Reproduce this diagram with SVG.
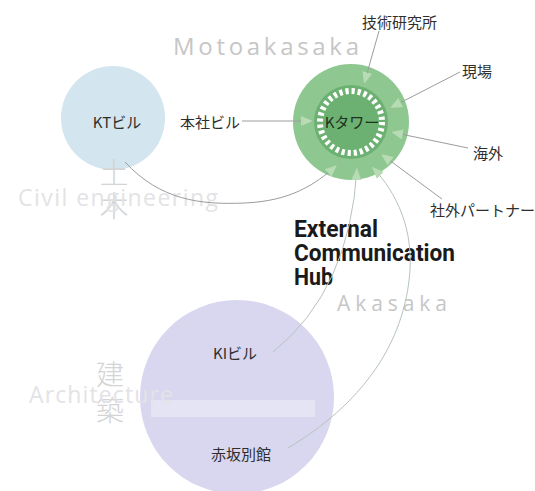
<svg xmlns="http://www.w3.org/2000/svg" width="535" height="491" viewBox="0 0 535 491">
<defs>
<style>
.jp{font-family:"Noto Sans CJK JP","Noto Sans",sans-serif;fill:#2e2e2e;font-size:15px}
.wm{font-family:"Open Sans","Noto Sans",sans-serif;fill:#c6c6c6}
.wm2{font-family:"Open Sans","Noto Sans",sans-serif;fill:#e3e3e6}
.wkt{font-family:"Noto Sans CJK JP",sans-serif;font-weight:200;fill:#d4d4d4}
.ln{fill:none;stroke:#9c9c9c;stroke-width:1}
.ln2{fill:none;stroke:#b6c4bb;stroke-width:1}
.hub{font-family:Roboto,"Liberation Sans",sans-serif;font-weight:700;font-size:23px;fill:#1a1a1a}
</style>
<marker id="ah" markerUnits="userSpaceOnUse" markerWidth="14" markerHeight="12" refX="12" refY="5" orient="auto">
<path d="M0,0 L12,5 L0,10 Z" fill="#b7dbb3"/>
</marker>
</defs>
<rect width="535" height="491" fill="#ffffff"/>

<g id="node-kt">
<circle cx="113" cy="118" r="52" fill="#d3e5ee"/>
<text class="wkt" x="114" y="184" font-size="29" text-anchor="middle">土</text>
<text class="wkt" x="114" y="217" font-size="29" text-anchor="middle">木</text>
<text class="jp" x="117" y="128" text-anchor="middle">KTビル</text>
</g>

<g id="node-ki">
<circle cx="237" cy="397" r="97" fill="#d9d7ef"/>
<rect x="151" y="400" width="164" height="17" fill="#e5e4f4"/>
<text class="wkt" x="110" y="385" font-size="28" text-anchor="middle">建</text>
<text class="wkt" x="110" y="421" font-size="28" text-anchor="middle">築</text>
<text class="jp" x="235" y="359" text-anchor="middle">KIビル</text>
<text class="jp" x="241" y="460" text-anchor="middle">赤坂別館</text>
</g>

<!-- background watermark texts -->
<g id="watermarks">
<text class="wm" x="173" y="55" font-size="24" textLength="186" lengthAdjust="spacing">Motoakasaka</text>
<text class="wm" x="337" y="311" font-size="21" textLength="110" lengthAdjust="spacing">Akasaka</text>
<text class="wm2" x="18" y="206" font-size="23" textLength="200" lengthAdjust="spacing">Civil engineering</text>
<text class="wm2" x="29" y="403" font-size="23" textLength="144" lengthAdjust="spacing">Architecture</text>
</g>

<g id="node-ktower">
<circle cx="351" cy="122" r="58" fill="#8fc791"/>
<circle cx="351" cy="122" r="37" fill="#6cb171"/>
<circle cx="351" cy="122" r="31" fill="none" stroke="#ffffff" stroke-width="6" stroke-dasharray="3.2 2.9"/>
<text class="jp" x="352" y="128" text-anchor="middle" font-size="14" style="fill:#1d3320">Kタワー</text>
</g>

<g id="labels">
<text class="jp" x="362" y="28" font-size="14.5">技術研究所</text>
<text class="jp" x="462" y="77">現場</text>
<text class="jp" x="473" y="159">海外</text>
<text class="jp" x="430" y="216" textLength="105" lengthAdjust="spacingAndGlyphs">社外パートナー</text>
<text class="jp" x="180" y="128">本社ビル</text>
</g>

<g id="hub">
<text class="hub" x="294" y="237" textLength="84" lengthAdjust="spacingAndGlyphs">External</text>
<text class="hub" x="294" y="261" textLength="161" lengthAdjust="spacingAndGlyphs">Communication</text>
<text class="hub" x="294" y="285" textLength="39" lengthAdjust="spacingAndGlyphs">Hub</text>
</g>

<g id="connectors">
<path class="ln" d="M242,121 L313,121" marker-end="url(#ah)"/>
<path class="ln" d="M379,31 L364,84" marker-end="url(#ah)"/>
<path class="ln" d="M460,72 L390,108" marker-end="url(#ah)"/>
<path class="ln" d="M468,148 L391,132" marker-end="url(#ah)"/>
<path class="ln" d="M442,199 L381,154" marker-end="url(#ah)"/>
<path class="ln" d="M125,162 C160,200 200,205 245,203 C290,201 315,185 337,165" marker-end="url(#ah)"/>
<path class="ln2" d="M273,352 Q350,290 357,168" marker-end="url(#ah)"/>
<path class="ln2" d="M288,448 C360,405 405,345 410,270 C413,220 390,185 372,167" marker-end="url(#ah)"/>
</g>
</svg>
